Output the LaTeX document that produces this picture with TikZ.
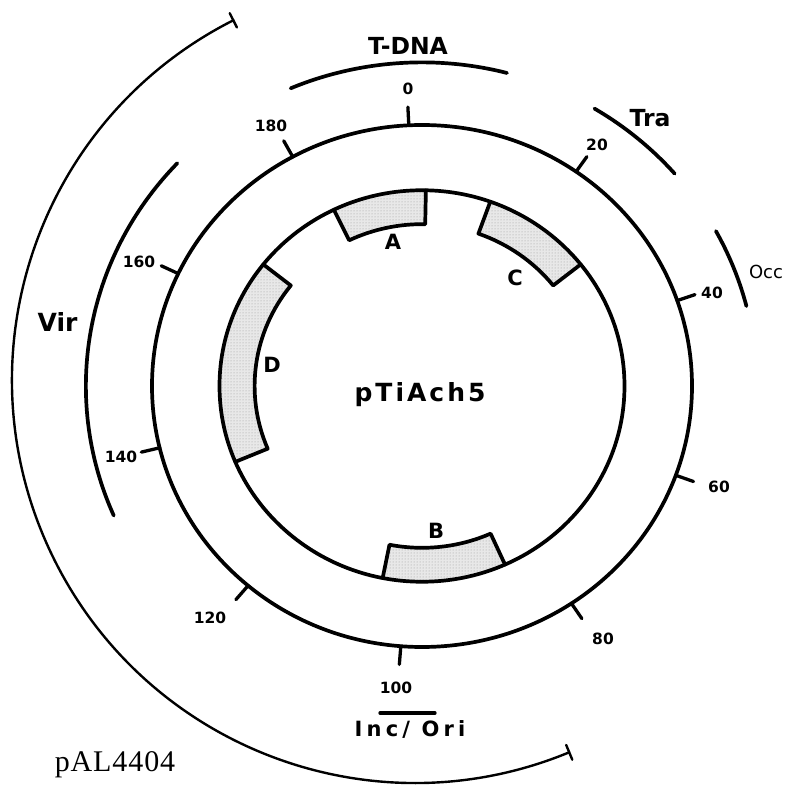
\documentclass[tikz,border=0pt]{standalone}
\usepackage{fontspec}
\setmainfont{DejaVu Sans}
\newfontfamily\palfont{Liberation Serif}
\usetikzlibrary{patterns}
\newcommand{\lsp}[1]{\addfontfeatures{LetterSpace=#1}}
\begin{document}
\begin{tikzpicture}[x=1pt,y=1pt,line cap=round,line join=round]
\useasboundingbox (0,0) rectangle (788,790);
\fill[white] (0,0) rectangle (788,790);
\tikzset{
  mapline/.style={line width=3.7pt},
  bigarc/.style={line width=2.4pt},
  tickline/.style={line width=3.3pt},
  boxfill/.style={fill=gray!18},
  boxdots/.style={pattern=dots,pattern color=gray!80},
  numlbl/.style={anchor=base,inner sep=0pt,font=\bfseries\fontsize{15.5}{16}\selectfont},
  boxlbl/.style={anchor=base,inner sep=0pt,font=\bfseries\fontsize{21}{22}\selectfont},
  reglbl/.style={anchor=base,inner sep=0pt,font=\bfseries\fontsize{23.5}{25}\selectfont},
}
% ---------- map (elliptical coordinates) ----------
\begin{scope}[shift={(422pt,404pt)},x=270pt,y=261pt]
  \coordinate (ctr) at (0,0);
  % gene boxes A, C, B, D
  \foreach \a/\b in {115.8/88.9, 70.3/38.4, -65.8/-101.2, 202.8/141.6}{
    \path[boxfill] (\a:0.75) arc[start angle=\a,end angle=\b,radius=0.75]
       -- (\b:0.62) arc[start angle=\b,end angle=\a,radius=0.62] -- cycle;
    \path[boxdots] (\a:0.75) arc[start angle=\a,end angle=\b,radius=0.75]
       -- (\b:0.62) arc[start angle=\b,end angle=\a,radius=0.62] -- cycle;
    \draw[mapline] (\a:0.75) -- (\a:0.62) arc[start angle=\a,end angle=\b,radius=0.62] -- (\b:0.75);
  }
  % inner and outer circles
  \draw[mapline] (ctr) circle[radius=0.75];
  \draw[mapline] (ctr) circle[radius=1];
  % ticks
  \foreach \t in {-2.8,34.8,70.9,110,146.4,184.5,220.1,256.3,295.5,331.4}{
    \draw[tickline] ({90-\t}:1) -- ({90-\t}:1.07);
  }
  % region arcs
  \draw[mapline] (113.1:1.24) arc[start angle=113.1,end angle=75.3,radius=1.24];
  \draw[mapline] (59:1.24) arc[start angle=59,end angle=41,radius=1.24];
  \draw[mapline] (28.6:1.24) arc[start angle=28.6,end angle=14.3,radius=1.24];
  \draw[mapline] (136.7:1.245) arc[start angle=136.7,end angle=203.5,radius=1.245];
\end{scope}
% ---------- pAL4404 arc ----------
\coordinate (pc) at (415,410);
\draw[bigarc] (pc) ++(116.8:403) arc[start angle=116.8,end angle=292.5,radius=403];
\draw[bigarc] (pc) ++(116.8:395) -- ++(116.8:16);
\draw[bigarc] (pc) ++(292.5:395) -- ++(292.5:16);
% Inc/Ori bar
\coordinate (ia) at (380,77);
\coordinate (ib) at (435,77);
\draw[line width=3.3pt] (ia) -- (ib);
% ---------- labels ----------
\node[numlbl] (n0) at (408,695) {0};
\node[numlbl] (n20) at (597,639) {20};
\node[numlbl] (n40) at (712,491) {40};
\node[numlbl] (n60) at (719,297) {60};
\node[numlbl] (n80) at (603,145) {80};
\node[numlbl] (n100) at (396,96) {100};
\node[numlbl] (n120) at (210,166) {120};
\node[numlbl] (n140) at (121,327) {140};
\node[numlbl] (n160) at (139,522) {160};
\node[numlbl] (n180) at (271,658) {180};
\node[boxlbl] (lA) at (393,540) {A};
\node[boxlbl] (lB) at (436,251) {B};
\node[boxlbl] (lC) at (515,504) {C};
\node[boxlbl] (lD) at (272,417) {D};
\node[reglbl] (tdna) at (408,735) {T-DNA};
\node[reglbl] (tra) at (650,663) {Tra};
\node[anchor=base,inner sep=0pt,font=\fontsize{18}{19}\selectfont] (occ) at (766,511) {Occ};
\node[anchor=base,inner sep=0pt,font=\bfseries\fontsize{25}{26}\selectfont] (vir) at (57.5,458) {Vir};
\node[anchor=base,inner sep=0pt,font=\bfseries\fontsize{25}{26}\selectfont\lsp{12}] (pti) at (420,388) {pTiAch5};
\node[anchor=base,inner sep=0pt,font=\bfseries\fontsize{21}{22}\selectfont\lsp{20}] (inc) at (410,53) {Inc/ Ori};
\node[anchor=base,inner sep=0pt,font=\palfont\fontsize{30}{31}\selectfont\lsp{3}] (pal) at (115,18) {pAL4404};
\end{tikzpicture}
\end{document}
